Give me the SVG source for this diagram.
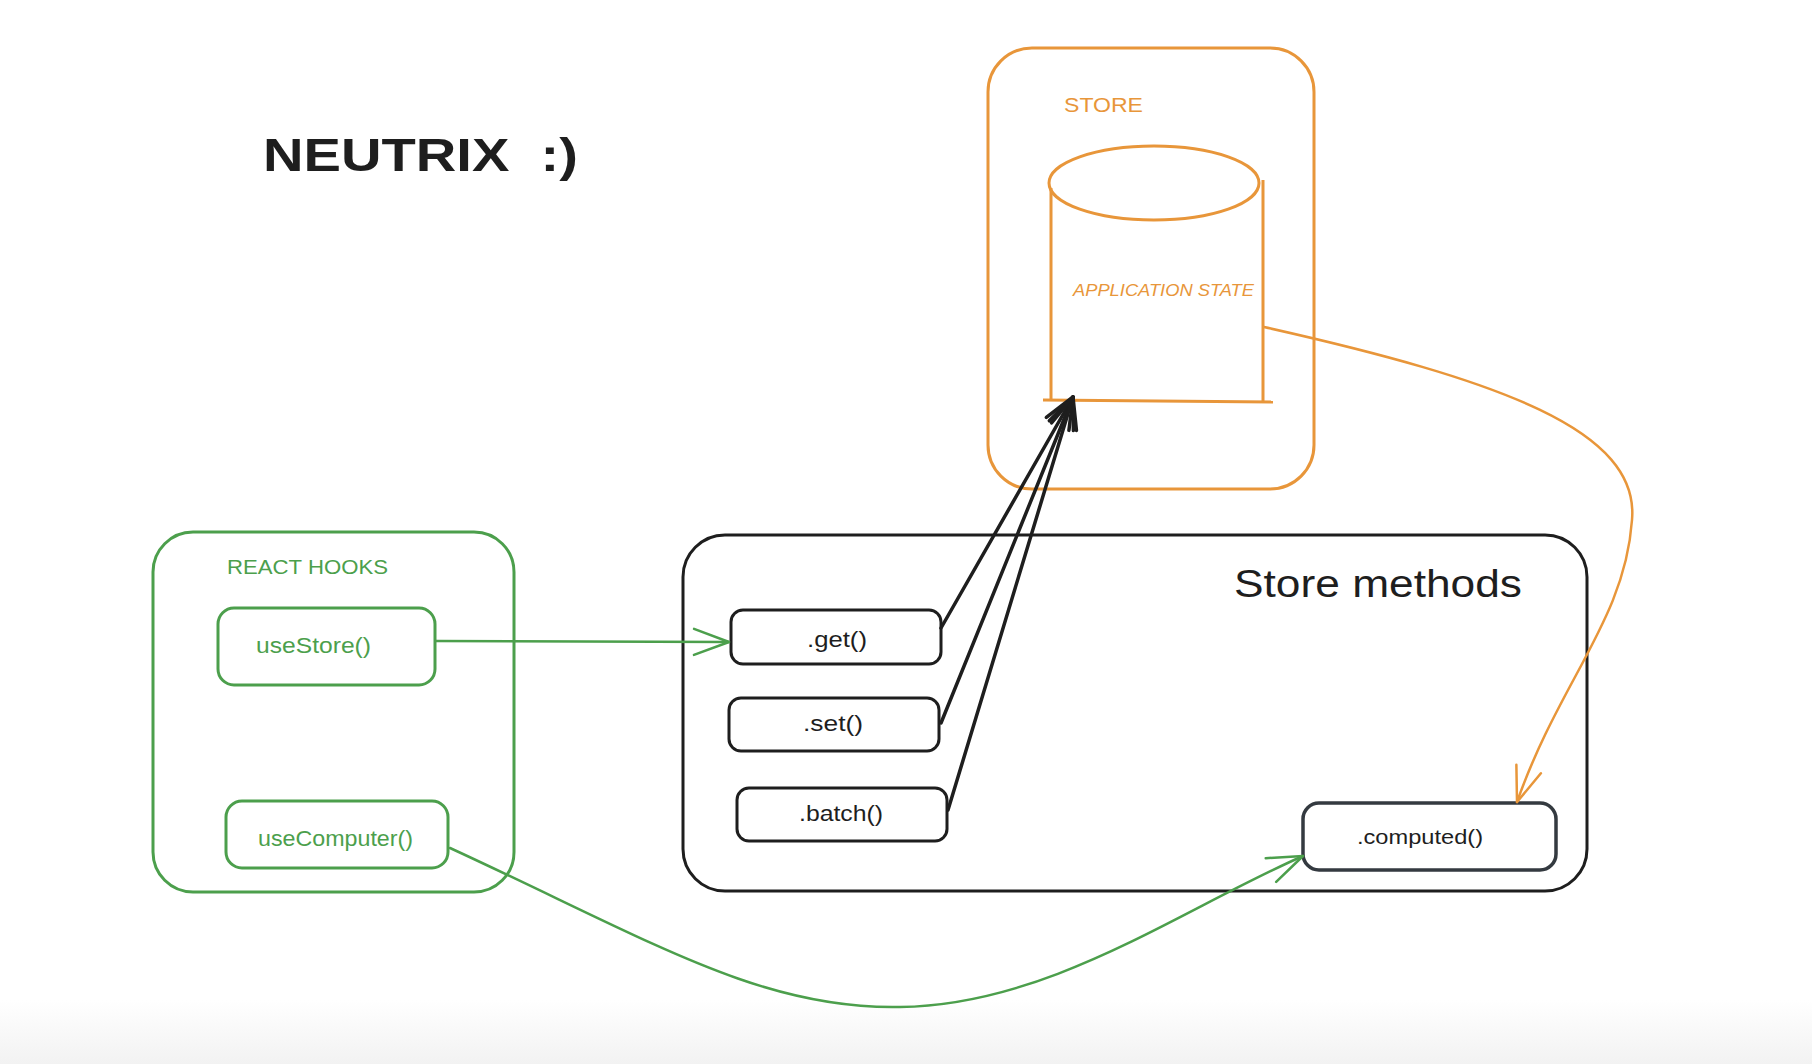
<svg xmlns="http://www.w3.org/2000/svg" width="1812" height="1064" viewBox="0 0 1812 1064">
<defs>
<linearGradient id="floor" x1="0" y1="0" x2="0" y2="1">
<stop offset="0" stop-color="#ffffff"/>
<stop offset="1" stop-color="#f2f2f2"/>
</linearGradient>
<marker id="ah-black" markerUnits="userSpaceOnUse" markerWidth="60" markerHeight="60" viewBox="-40 -30 60 60" refX="0" refY="0" orient="auto" overflow="visible">
<path d="M-31,-13 L0,0 L-31,13" fill="none" stroke="#1e1e1e" stroke-width="3.5" stroke-linecap="round" stroke-linejoin="round"/>
</marker>
<marker id="ah-green" markerUnits="userSpaceOnUse" markerWidth="60" markerHeight="60" viewBox="-40 -30 60 60" refX="0" refY="0" orient="auto" overflow="visible">
<path d="M-35,-13 L0,0 L-35,13" fill="none" stroke="#4c9f4c" stroke-width="2.5" stroke-linecap="round" stroke-linejoin="round"/>
</marker>
<marker id="ah-orange" markerUnits="userSpaceOnUse" markerWidth="60" markerHeight="60" viewBox="-40 -30 60 60" refX="0" refY="0" orient="auto" overflow="visible">
<path d="M-35,-13 L0,0 L-35,13" fill="none" stroke="#e8963a" stroke-width="2.5" stroke-linecap="round" stroke-linejoin="round"/>
</marker>
</defs>
<style>
text { font-family: "Liberation Sans", "DejaVu Sans", sans-serif; }
.black { stroke: #1e1e1e; fill: none; stroke-width: 3; }
.slate { stroke: #343a40; fill: none; stroke-width: 3.5; }
.green { stroke: #4c9f4c; fill: none; stroke-width: 3; }
.orange { stroke: #e8963a; fill: none; stroke-width: 3; }
.t-black { fill: #1e1e1e; }
.t-green { fill: #4c9f4c; }
.t-orange { fill: #e8963a; }
.conn-black { stroke: #1e1e1e; fill: none; stroke-width: 3.5; stroke-linecap: round; }
.conn-green { stroke: #4c9f4c; fill: none; stroke-width: 2.5; stroke-linecap: round; }
.conn-orange { stroke: #e8963a; fill: none; stroke-width: 2.5; stroke-linecap: round; }
</style>
<rect x="0" y="0" width="1812" height="1064" fill="#ffffff"/>
<rect x="0" y="1000" width="1812" height="64" fill="url(#floor)"/>

<g id="title">
<text x="263" y="171" font-size="47" font-weight="bold" class="t-black" textLength="315" lengthAdjust="spacingAndGlyphs" style="white-space:pre">NEUTRIX  :)</text>
</g>

<g id="store">
<rect x="988" y="48" width="326" height="441" rx="44" class="orange"/>
<text x="1064" y="112" font-size="21" class="t-orange" textLength="79" lengthAdjust="spacingAndGlyphs">STORE</text>
</g>

<g id="application-state">
<path d="M1051,188 L1051,401 M1263,180 L1263,401" class="orange" stroke-width="4"/>
<ellipse cx="1154" cy="183" rx="105" ry="37" class="orange" stroke-width="4"/>
<path d="M1043,400 L1273,402" class="orange" stroke-width="5"/>
<text x="1073" y="296" font-size="17" font-style="italic" class="t-orange" textLength="181" lengthAdjust="spacingAndGlyphs">APPLICATION STATE</text>
</g>

<g id="react-hooks">
<rect x="153" y="532" width="361" height="360" rx="40" class="green"/>
<text x="227" y="574" font-size="20" class="t-green" textLength="161" lengthAdjust="spacingAndGlyphs">REACT HOOKS</text>
</g>

<g id="useStore">
<rect x="218" y="608" width="217" height="77" rx="16" class="green"/>
<text x="256" y="653" font-size="22" class="t-green" textLength="115" lengthAdjust="spacingAndGlyphs">useStore()</text>
</g>

<g id="useComputer">
<rect x="226" y="801" width="222" height="67" rx="16" class="green"/>
<text x="258" y="846" font-size="22" class="t-green" textLength="155" lengthAdjust="spacingAndGlyphs">useComputer()</text>
</g>

<g id="store-methods">
<rect x="683" y="535" width="904" height="356" rx="42" class="black"/>
<text x="1234" y="597" font-size="38" class="t-black" textLength="288" lengthAdjust="spacingAndGlyphs">Store methods</text>
</g>

<g id="get">
<rect x="731" y="610" width="210" height="54" rx="12" class="black"/>
<text x="807" y="647" font-size="22" class="t-black" textLength="60" lengthAdjust="spacingAndGlyphs">.get()</text>
</g>

<g id="set">
<rect x="729" y="698" width="210" height="53" rx="12" class="black"/>
<text x="803" y="731" font-size="22" class="t-black" textLength="60" lengthAdjust="spacingAndGlyphs">.set()</text>
</g>

<g id="batch">
<rect x="737" y="788" width="210" height="53" rx="12" class="black"/>
<text x="799" y="821" font-size="22" class="t-black" textLength="84" lengthAdjust="spacingAndGlyphs">.batch()</text>
</g>

<g id="computed">
<rect x="1303" y="803" width="253" height="67" rx="16" class="slate"/>
<text x="1357" y="844" font-size="21" class="t-black" textLength="126" lengthAdjust="spacingAndGlyphs">.computed()</text>
</g>

<g id="connectors">
<path d="M941,628 L1073,397" class="conn-black" marker-end="url(#ah-black)"/>
<path d="M941,723 L1073,397" class="conn-black" marker-end="url(#ah-black)"/>
<path d="M948,810 L1073,397" class="conn-black" marker-end="url(#ah-black)"/>
<path d="M436,641 L729,642" class="conn-green" marker-end="url(#ah-green)"/>
<path d="M450,848 C650,940 760,1010 900,1007 C1050,1005 1180,910 1303,856" class="conn-green" marker-end="url(#ah-green)"/>
<path d="M1264,327 C1500,380 1640,430 1632,520 C1625,620 1560,680 1517,802" class="conn-orange" marker-end="url(#ah-orange)"/>
</g>
</svg>
